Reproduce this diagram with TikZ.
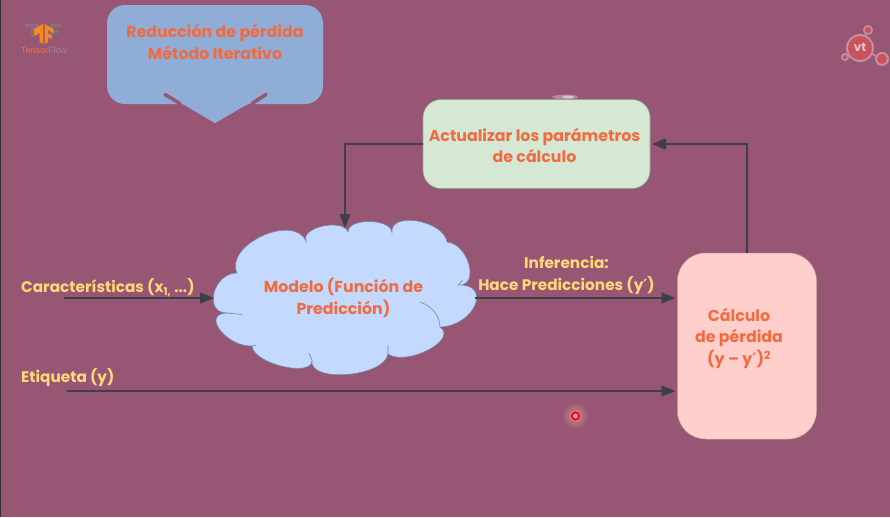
\documentclass[tikz,border=0pt]{standalone}
\usepackage{fontspec}
\setmainfont{Poppins}
\newfontfamily\logofont{Liberation Sans}
\newfontfamily\primefont{DejaVu Sans}
\newcommand{\primec}{{\primefont\bfseries ′}}
\usetikzlibrary{arrows.meta}
\definecolor{bgc}{HTML}{975774}
\definecolor{bluebox}{HTML}{8FADD6}
\definecolor{greenbox}{HTML}{D5E8D4}
\definecolor{pinkbox}{HTML}{FFCFCB}
\definecolor{cloudc}{HTML}{C3D9FF}
\definecolor{cloude}{HTML}{76889F}
\definecolor{orangetx}{HTML}{F26B40}
\definecolor{yellowtx}{HTML}{FFD878}
\definecolor{linec}{HTML}{3F3F46}
\definecolor{tforange}{HTML}{F58A22}
\definecolor{vtring}{HTML}{C58CA6}
\definecolor{vtred}{HTML}{C9535A}
\tikzset{
  box/.style={inner sep=0pt,outer sep=0pt},
  otext/.style={text=orangetx,font=\fontsize{15.8}{21.5}\selectfont\bfseries,align=center,inner sep=0pt},
  ytext/.style={text=yellowtx,font=\fontsize{15.3}{21.5}\selectfont\bfseries,align=center,inner sep=0pt},
  conn/.style={draw=linec,line width=1.5pt,-{Triangle[length=14pt,width=11pt]}},
}
\begin{document}
\begin{tikzpicture}[x=1pt,y=-1pt]
\useasboundingbox (0,0) rectangle (890,517);
\fill[bgc] (0,0) rectangle (890,517);
\fill[black!80] (0,0) rectangle (1,517);

% TensorFlow logo
\fill[gray!60!bgc] (25,24) rectangle (39,27) (30.5,24) rectangle (33.5,37);
\fill[gray!60!bgc] (50,24) rectangle (61,27) (50,24) rectangle (53,37) (50,30) rectangle (59,33);
\fill[tforange] (34,29) -- (43,24) -- (43,44) -- (39.5,42) -- (39.5,33) -- (34,36) -- cycle;
\fill[tforange] (44.5,24) -- (53.5,29) -- (53.5,33) -- (48,30) -- (48,33.5) -- (51.5,35.5) -- (51.5,39) -- (48,37) -- (48,42) -- (44.5,44) -- cycle;
\node[box,font=\fontsize{9}{10}\logofont] (tflogo) at (44,50) {\textcolor{orangetx}{Tensor}\textcolor{gray!40!bgc!80!white}{Flow}};

% vt logo
\draw[draw=vtring,line width=1.6pt] (860,48) -- (868,30) (860,48) -- (845,57) (860,48) -- (882,59);
\fill[fill=vtring] (868,30) circle (5) (845,57) circle (4) (882,59) circle (7) (860,48) circle (14);
\fill[fill=vtred] (868,30) circle (3) (845,57) circle (2) (882,59) circle (5) (860,48) circle (12);
\node[box,text=vtring!50!white,font=\fontsize{12}{12}\selectfont\bfseries] (vtlogo) at (860,47) {vt};

% title callout
\fill[bluebox] (215,123) -- (150,84) -- (280,84) -- cycle;
\node[box,fill=bluebox,rounded corners=18pt,minimum width=216pt,minimum height=99pt] (titlebox) at (215,54.5) {};
\fill[bluebox] (215,123) -- (164,93) -- (267,93) -- cycle;
\draw[bgc,line width=3.6pt,line cap=round] (165,94.5) -- (180,103.5) (266,94.5) -- (252,103.5);
\node[otext] (title) at (215,42) {Reducción de pérdida\\Método Iterativo};

% glow above update box
\fill[white,opacity=.3] (565,97) ellipse (13 and 2.5);
\fill[white,opacity=.5] (568,97) ellipse (6 and 1.5);

% update box
\node[box,fill=greenbox,draw=gray!70!greenbox,line width=.6pt,rounded corners=18pt,minimum width=227pt,minimum height=89pt] (update) at (536.5,144) {};
\node[otext] (updatetext) at (534.5,145.5) {Actualizar los parámetros\\de cálculo};

% cloud
\path[fill=cloudc,draw=cloude,line width=.6pt]
 (348,232) .. controls (348,217.3) and (392,218.3) .. (392,233)
 .. controls (388.7,211) and (443.7,220) .. (447,242)
 .. controls (469,244) and (480,287) .. (458,285)
 .. controls (492.7,283.7) and (474.7,325.7) .. (440,327)
 .. controls (458.7,339.7) and (406.7,366.7) .. (388,354)
 .. controls (384,377.3) and (308,383.3) .. (312,360)
 .. controls (313.3,378) and (253.3,364) .. (252,346)
 .. controls (226,346.7) and (201,313.7) .. (227,313)
 .. controls (203,313) and (213,273) .. (237,273)
 .. controls (224.3,245) and (293.3,213) .. (306,241)
 .. controls (300.7,227) and (342.7,218) .. (348,232) -- cycle;
\draw[cloude,line width=.6pt] (227,313) -- (242,314.5)
  (458,285) -- (463,280)
  (420,302) .. controls (432,306) and (440,316) .. (440,327)
  (388,354) -- (388,345)
  (312,360) -- (309,353)
  (252,346) -- (256,345);
\node[otext] (model) at (343.5,298) {Modelo (Función de\\Predicción)};
\coordinate (cloudL) at (214,298);
\coordinate (cloudR) at (475,298);
\coordinate (cloudT) at (345,228);

% loss box
\node[box,fill=pinkbox,draw=gray!50!pinkbox,line width=.5pt,rounded corners=28pt,minimum width=139pt,minimum height=186pt] (loss) at (747,346) {};
\node[otext] (losstext) at (739,338.5) {Cálculo\\de pérdida\\(y – y\primec)\textsuperscript{2}};

% labels
\node[ytext,anchor=west] (features) at (21,288) {Características (x\textsubscript{1,} ...)};
\node[ytext,anchor=west] (label) at (21,377.5) {Etiqueta (y)};
\node[ytext] (inference) at (566.5,275.5) {Inferencia:\\Hace Predicciones (y\primec)};

% connectors
\coordinate (featStart) at (64,298);
\coordinate (labelStart) at (67,391);
\draw[conn] (featStart) -- (cloudL);
\draw[conn] (cloudR) -- ([xshift=-2pt]loss.west |- cloudR);
\draw[conn] (labelStart) -- ([xshift=-2pt]loss.west |- labelStart);
\draw[conn] (update.west) -| (cloudT);
\draw[conn] (loss.north) |- ([xshift=2pt]update.east);

% pointer
\foreach \r/\o in {13/.08,11/.1,9/.14,7/.2} \fill[red!40!white,opacity=\o] (575.5,416) circle (\r);
\node[circle,draw=red,fill=bgc!50!white,line width=1.6pt,minimum size=7pt,inner sep=0pt] (pointer) at (575.5,416) {};
\end{tikzpicture}
\end{document}
